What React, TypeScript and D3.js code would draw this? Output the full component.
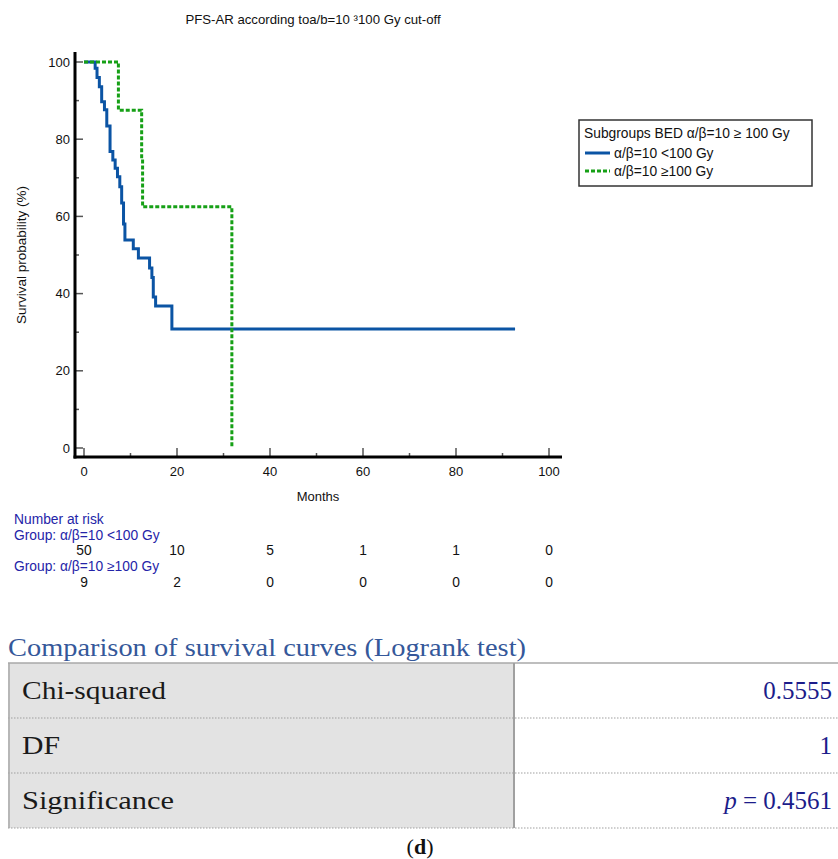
import React from 'react';
import * as d3 from 'd3';

// ---- data ----
const lowTimes = [0, 2.4, 2.8, 3.3, 3.8, 4.4, 4.9, 5.6, 6.2, 6.7, 7.2, 7.7, 8.1, 8.5, 8.8, 10.6, 11.7, 14.1, 14.6, 14.9, 15.4, 18.9];
const lowSurv = [100, 98.4, 96, 93.6, 89.7, 87.6, 83.4, 76.8, 74.6, 72.5, 70.3, 67.7, 63.5, 58, 53.9, 51.6, 49.2, 46.6, 44.2, 39.1, 36.8, 30.8];
const lowEnd = 92.7;
const highTimes = [0, 7.4, 12.4, 12.6, 31.8];
const highSurv = [100, 87.5, 75, 62.5, 0];
const xTicks = [0, 20, 40, 60, 80, 100];
const xMinor = [10, 30, 50, 70, 90];
const yTicks = [0, 20, 40, 60, 80, 100];
const yMinor = [10, 30, 50, 70, 90];
const riskLow = [50, 10, 5, 1, 1, 0];
const riskHigh = [9, 2, 0, 0, 0, 0];
const groupLabels = ['α/β=10 <100 Gy', 'α/β=10 ≥100 Gy'];
const statLabels = ['Chi-squared', 'DF', 'Significance'];
const statLabelWidths = [144, 38, 152];
const statValues = ['0.5555', '1', '0.4561'];

const BLUE = '#0b54a4';
const GREEN = '#16a016';
const SANS = '"Liberation Sans", Arial, sans-serif';
const SERIF = '"Liberation Serif", "DejaVu Serif", serif';

export default function App() {
  const x = d3.scaleLinear().domain([0, 100]).range([84, 549]);
  const y = d3.scaleLinear().domain([0, 100]).range([448, 62]);
  const line = d3.line<[number, number]>().x(d => x(d[0])).y(d => y(d[1])).curve(d3.curveStepAfter);
  const lowPts: [number, number][] = lowTimes.map((t, i) => [t, lowSurv[i]]);
  lowPts.push([lowEnd, lowSurv[lowSurv.length - 1]]);
  const highPts: [number, number][] = highTimes.map((t, i) => [t, highSurv[i]]);

  const axisX = 75;
  const axisY = 457;

  const tableTop = 663;
  const rowH = 55;
  const colDiv = 514;

  return (
    <svg width={838} height={859} style={{ position: 'absolute', left: 0, top: 0, background: '#fff' }}>
      <rect x={0} y={0} width={838} height={859} fill="#fff" />
      {/* title */}
      <text x={313} y={24} textAnchor="middle" fontFamily={SANS} fontSize={13.2} fill="#111">
        PFS-AR according toa/b=10 ³100 Gy cut-off
      </text>

      {/* y ticks */}
      {yTicks.map(v => (
        <g key={'y' + v}>
          <line x1={axisX} x2={axisX + 8} y1={y(v)} y2={y(v)} stroke="#555" strokeWidth={1.5} />
          <text x={70} y={y(v)} dy="0.35em" textAnchor="end" fontFamily={SANS} fontSize={13} fill="#111">{v}</text>
        </g>
      ))}
      {yMinor.map(v => (
        <line key={'ym' + v} x1={axisX} x2={axisX + 4} y1={y(v)} y2={y(v)} stroke="#555" strokeWidth={1.5} />
      ))}
      {/* x ticks */}
      {xTicks.map(v => (
        <g key={'x' + v}>
          <line x1={x(v)} x2={x(v)} y1={axisY} y2={axisY - 9} stroke="#555" strokeWidth={1.5} />
          <text x={x(v)} y={axisY + 14} dy="0.35em" textAnchor="middle" fontFamily={SANS} fontSize={13} fill="#111">{v}</text>
        </g>
      ))}
      {xMinor.map(v => (
        <line key={'xm' + v} x1={x(v)} x2={x(v)} y1={axisY} y2={axisY - 4} stroke="#555" strokeWidth={1.5} />
      ))}
      {/* axes */}
      <line x1={axisX} x2={axisX} y1={52} y2={axisY + 1.5} stroke="#000" strokeWidth={3} />
      <line x1={axisX - 1.5} x2={562} y1={axisY} y2={axisY} stroke="#000" strokeWidth={3} />

      {/* axis labels */}
      <text x={318} y={501} textAnchor="middle" fontFamily={SANS} fontSize={13} fill="#111">Months</text>
      <text transform="translate(26,255) rotate(-90)" textAnchor="middle" fontFamily={SANS} fontSize={13.5} fill="#111">
        Survival probability (%)
      </text>

      {/* curves */}
      <path d={line(lowPts) || ''} fill="none" stroke={BLUE} strokeWidth={3} />
      <path d={line(highPts) || ''} fill="none" stroke={GREEN} strokeWidth={3} strokeDasharray="4,2" />

      {/* legend */}
      <rect x={579} y={120} width={233} height={66} fill="#fff" stroke="#333" strokeWidth={1.5} />
      <text x={584} y={138} fontFamily={SANS} fontSize={13.8} fill="#111">Subgroups BED α/β=10 ≥ 100 Gy</text>
      <line x1={585} x2={610} y1={153} y2={153} stroke={BLUE} strokeWidth={3} />
      <text x={614} y={157.5} fontFamily={SANS} fontSize={13.8} fill="#111">{groupLabels[0]}</text>
      <line x1={585} x2={610} y1={171} y2={171} stroke={GREEN} strokeWidth={3} strokeDasharray="4,2" />
      <text x={614} y={175.5} fontFamily={SANS} fontSize={13.8} fill="#111">{groupLabels[1]}</text>

      {/* number at risk */}
      <text x={14} y={524} fontFamily={SANS} fontSize={13.8} fill="#2424a8">Number at risk</text>
      <text x={14} y={540} fontFamily={SANS} fontSize={13.8} fill="#2424a8">Group: {groupLabels[0]}</text>
      {riskLow.map((v, i) => (
        <text key={'rl' + i} x={x(xTicks[i])} y={555} textAnchor="middle" fontFamily={SANS} fontSize={13.8} fill="#111">{v}</text>
      ))}
      <text x={14} y={571} fontFamily={SANS} fontSize={13.8} fill="#2424a8">Group: {groupLabels[1]}</text>
      {riskHigh.map((v, i) => (
        <text key={'rh' + i} x={x(xTicks[i])} y={587} textAnchor="middle" fontFamily={SANS} fontSize={13.8} fill="#111">{v}</text>
      ))}

      {/* table */}
      <text x={8} y={656} fontFamily={SERIF} fontSize={25} fill="#35589a" textLength={518} lengthAdjust="spacingAndGlyphs">
        Comparison of survival curves (Logrank test)
      </text>
      <rect x={8} y={tableTop} width={colDiv - 8} height={rowH * 3} fill="#e3e3e3" />
      <line x1={8} x2={838} y1={tableTop} y2={tableTop} stroke="#a8a8a8" strokeWidth={1.5} />
      {[1, 2, 3].map(r => (
        <line key={'rs' + r} x1={8} x2={838} y1={tableTop + rowH * r} y2={tableTop + rowH * r} stroke="#a0a0a0" strokeWidth={1.2} strokeDasharray="1.5,1.5" />
      ))}
      <line x1={9} x2={9} y1={tableTop} y2={tableTop + rowH * 3} stroke="#a8a8a8" strokeWidth={1.5} />
      <line x1={colDiv} x2={colDiv} y1={tableTop} y2={tableTop + rowH * 3} stroke="#a0a0a0" strokeWidth={2} />
      {statLabels.map((s, i) => (
        <text key={'sl' + i} x={22} y={tableTop + rowH * i + rowH / 2 + 8} fontFamily={SERIF} fontSize={25} fill="#1a1a1a" textLength={statLabelWidths[i]} lengthAdjust="spacingAndGlyphs">{s}</text>
      ))}
      <text x={832} y={tableTop + rowH / 2 + 8} textAnchor="end" fontFamily={SERIF} fontSize={25} fill="#1c1c8a">{statValues[0]}</text>
      <text x={832} y={tableTop + rowH * 1.5 + 8} textAnchor="end" fontFamily={SERIF} fontSize={25} fill="#1c1c8a">{statValues[1]}</text>
      <text x={832} y={tableTop + rowH * 2.5 + 8} textAnchor="end" fontFamily={SERIF} fontSize={25} fill="#1c1c8a">
        <tspan fontStyle="italic">p</tspan> = {statValues[2]}
      </text>
      <text x={420} y={854} textAnchor="middle" fontFamily={SERIF} fontSize={22} fill="#111">
        (<tspan fontWeight="bold">d</tspan>)
      </text>
    </svg>
  );
}
